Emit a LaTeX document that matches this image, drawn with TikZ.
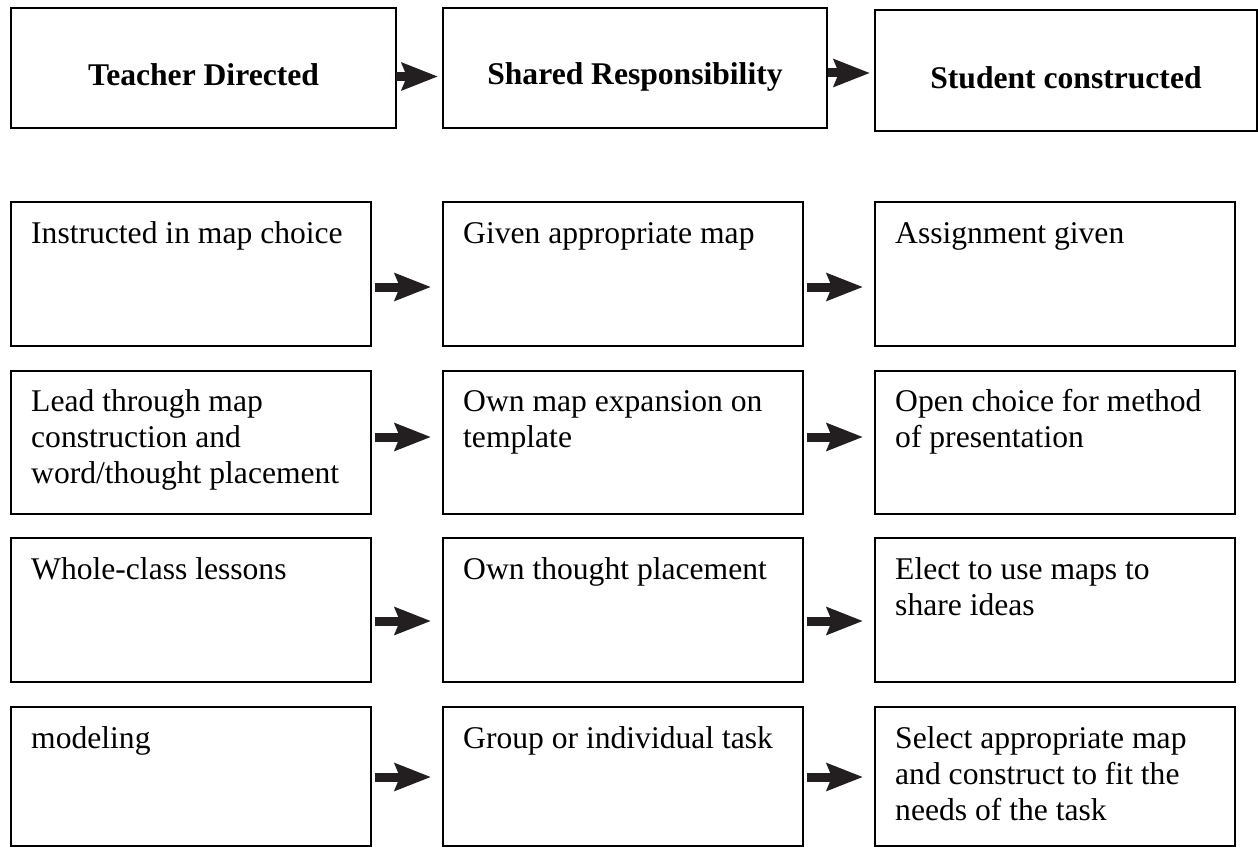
\documentclass[tikz,border=0pt]{standalone}
\usepackage{fontspec}
\setmainfont{Liberation Serif}
\usetikzlibrary{arrows.meta}
\definecolor{arrowc}{HTML}{231F20}
\tikzset{
  box/.style={draw=black, line width=1.5pt, anchor=north west, inner sep=0pt, outer sep=0pt},
  cell/.style={box, minimum width=360pt},
  head/.style={anchor=base, inner sep=0pt, font=\fontsize{31.6}{36.4}\selectfont\bfseries},
  body/.style={anchor=base west, inner sep=0pt, font=\fontsize{31.6}{36.4}\selectfont},
  blk/.style={draw=arrowc, line width=9pt, -{Stealth[length=36pt,width=27pt,inset=5pt]}},
}
\newcommand{\lines}[1]{\parbox[t]{340pt}{\raggedright #1}}
\begin{document}
\begin{tikzpicture}[x=1pt,y=-1pt]
\useasboundingbox (0,0) rectangle (1258,848);

% column headings
\node[box, minimum width=385pt, minimum height=120pt] (t1) at (11,8) {};
\node[box, minimum width=384pt, minimum height=120pt] (t2) at (443,8) {};
\node[box, minimum width=382pt, minimum height=121pt] (t3) at (875,10) {};
\node[head] (t1txt) at ([shift={(0,78)}]t1.north) {Teacher Directed};
\node[head] (t2txt) at ([shift={(0,77)}]t2.north) {Shared Responsibility};
\node[head] (t3txt) at ([shift={(0,79)}]t3.north) {Student constructed};

\draw[blk] ([shift={(0,68.5)}]t1.north east) -- ([shift={(-5,68.5)}]t2.north west);
\draw[blk] ([shift={(1,65)}]t2.north east) -- ([shift={(-5,63)}]t3.north west);

% row 1
\node[cell, minimum height=144pt] (a1) at (11,202) {};
\node[cell, minimum height=144pt] (b1) at (443,202) {};
\node[cell, minimum height=144pt] (c1) at (875,202) {};
\node[body] (a1txt) at ([shift={(20,41)}]a1.north west) {\lines{Instructed in map choice}};
\node[body] (b1txt) at ([shift={(20,41)}]b1.north west) {\lines{Given appropriate map}};
\node[body] (c1txt) at ([shift={(20,41)}]c1.north west) {\lines{Assignment given}};

% row 2
\node[cell, minimum height=143pt] (a2) at (11,371) {};
\node[cell, minimum height=143pt] (b2) at (443,371) {};
\node[cell, minimum height=143pt] (c2) at (875,371) {};
\node[body] (a2txt) at ([shift={(20,40)}]a2.north west) {\lines{Lead through map\\construction and\\word/thought placement}};
\node[body] (b2txt) at ([shift={(20,40)}]b2.north west) {\lines{Own map expansion on\\template}};
\node[body] (c2txt) at ([shift={(20,40)}]c2.north west) {\lines{Open choice for method\\of presentation}};

% row 3
\node[cell, minimum height=144pt] (a3) at (11,538) {};
\node[cell, minimum height=144pt] (b3) at (443,538) {};
\node[cell, minimum height=144pt] (c3) at (875,538) {};
\node[body] (a3txt) at ([shift={(20,41)}]a3.north west) {\lines{Whole-class lessons}};
\node[body] (b3txt) at ([shift={(20,41)}]b3.north west) {\lines{Own thought placement}};
\node[body] (c3txt) at ([shift={(20,41)}]c3.north west) {\lines{Elect to use maps to\\share ideas}};

% row 4
\node[cell, minimum height=139pt] (a4) at (11,707) {};
\node[cell, minimum height=139pt] (b4) at (443,707) {};
\node[cell, minimum height=139pt] (c4) at (875,707) {};
\node[body] (a4txt) at ([shift={(20,41)}]a4.north west) {\lines{modeling}};
\node[body] (b4txt) at ([shift={(20,41)}]b4.north west) {\lines{Group or individual task}};
\node[body] (c4txt) at ([shift={(20,41)}]c4.north west) {\lines{Select appropriate map\\and construct to fit the\\needs of the task}};

% arrows between cells
\foreach \l/\r/\dy in {a1/b1/85, b1/c1/85, a2/b2/66, b2/c2/66, a3/b3/83, b3/c3/83, a4/b4/70, b4/c4/70}
  \draw[blk] ([shift={(4,\dy)}]\l.north east) -- ([shift={(-12,\dy)}]\r.north west);
\end{tikzpicture}
\end{document}
